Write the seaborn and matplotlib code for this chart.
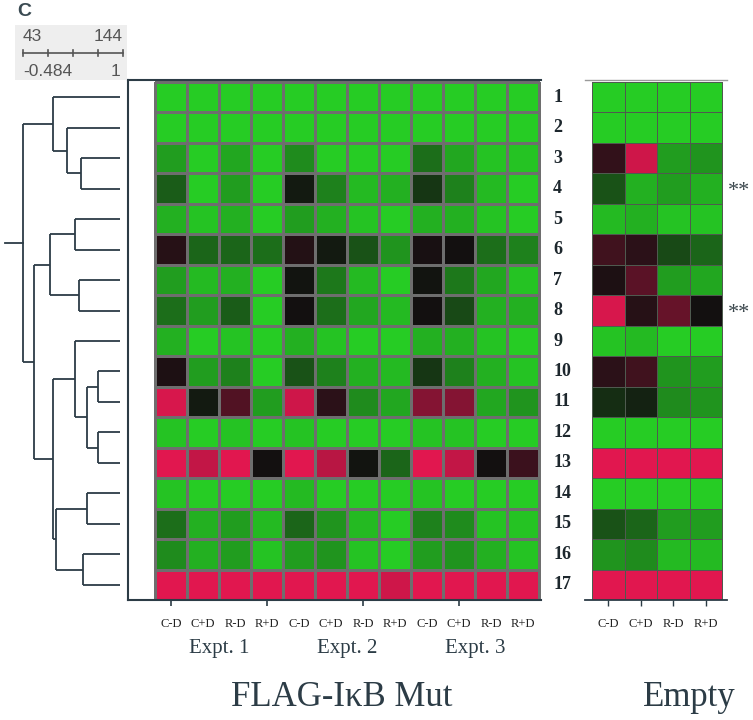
import numpy as np
import pandas as pd
import matplotlib
matplotlib.use("Agg")
import matplotlib.pyplot as plt
import seaborn as sns
from matplotlib.colors import LinearSegmentedColormap

genes = [str(i) for i in range(1, 18)]
conditions = ["C-D", "C+D", "R-D", "R+D"]
experiments = ["Expt. 1", "Expt. 2", "Expt. 3"]

# -1 = full green, 0 = black, 1 = full red
mut_vals = [
    [-1, -1, -1, -1, -1, -1, -1, -1, -1, -1, -1, -1],
    [-1, -1, -1, -1, -1, -1, -1, -1, -1, -1, -1, -1],
    [-0.75, -1, -0.8, -1, -0.65, -1, -1, -1, -0.5, -0.8, -0.95, -0.95],
    [-0.4, -1, -0.75, -1, -0.05, -0.6, -0.9, -0.85, -0.2, -0.6, -0.9, -1],
    [-0.85, -0.95, -0.85, -1, -0.75, -0.85, -0.95, -1, -0.85, -0.85, -0.95, -1],
    [0.1, -0.45, -0.45, -0.5, 0.08, -0.05, -0.35, -0.7, 0.03, 0.0, -0.5, -0.6],
    [-0.75, -0.9, -0.85, -1, -0.02, -0.55, -0.9, -1, -0.02, -0.55, -0.8, -0.95],
    [-0.5, -0.75, -0.4, -1, 0.0, -0.5, -0.8, -0.9, 0.0, -0.3, -0.85, -0.85],
    [-0.85, -1, -0.95, -1, -0.85, -0.95, -1, -1, -0.85, -0.85, -0.95, -1],
    [0.05, -0.75, -0.6, -1, -0.35, -0.6, -0.85, -0.9, -0.2, -0.6, -0.85, -0.95],
    [0.95, -0.05, 0.3, -0.75, 0.9, 0.12, -0.65, -0.8, 0.55, 0.55, -0.8, -0.7],
    [-0.95, -1, -0.95, -1, -0.95, -1, -1, -1, -0.95, -0.95, -1, -1],
    [1, 0.85, 1, 0.0, 1, 0.8, -0.02, -0.45, 1, 0.85, 0.0, 0.2],
    [-0.95, -1, -1, -1, -0.9, -1, -1, -1, -0.95, -1, -1, -1],
    [-0.5, -0.85, -0.75, -0.9, -0.45, -0.7, -0.9, -1, -0.6, -0.65, -0.95, -0.95],
    [-0.65, -0.85, -0.75, -0.95, -0.75, -0.7, -0.95, -1, -0.75, -0.7, -0.85, -0.95],
    [1, 1, 1, 1, 1, 1, 1, 0.9, 1, 1, 1, 1],
]

empty_vals = [
    [-1, -1, -1, -1],
    [-1, -1, -1, -1],
    [0.15, 0.9, -0.75, -0.7],
    [-0.35, -0.85, -0.75, -0.85],
    [-0.9, -0.85, -0.95, -0.95],
    [0.22, 0.12, -0.3, -0.45],
    [0.05, 0.35, -0.75, -0.8],
    [0.95, 0.1, 0.4, 0.0],
    [-0.95, -0.9, -1, -1],
    [0.12, 0.22, -0.7, -0.75],
    [-0.15, -0.1, -0.65, -0.7],
    [-1, -1, -1, -1],
    [1, 1, 1, 1],
    [-1, -1, -1, -1],
    [-0.35, -0.45, -0.75, -0.75],
    [-0.7, -0.65, -0.9, -0.9],
    [1, 1, 1, 1],
]

starred = ["4", "8"]

# tree: (left, right, height), leaves are 0..16, new nodes numbered from 17
merges = [
    (2, 3, 39), (1, 17, 53), (0, 18, 67),
    (4, 5, 45), (6, 7, 41), (20, 21, 70),
    (9, 10, 22), (11, 12, 22), (23, 24, 33), (8, 25, 45),
    (13, 14, 33), (15, 16, 37), (27, 28, 64),
    (26, 29, 67), (22, 30, 86), (19, 31, 97),
]
root_stub = 115

scale_top = ["43", "144"]
scale_bottom = ["-0.484", "1"]

W, H = 753, 720
serif = "Liberation Serif"
dark = "#2c3c46"
cmap = LinearSegmentedColormap.from_list("gbr", ["#26cc24", "#121010", "#e1174f"])

fig = plt.figure(figsize=(W / 100, H / 100), dpi=100)


def px_axes(x0, y0, x1, y1):
    return fig.add_axes([x0 / W, 1 - y1 / H, (x1 - x0) / W, (y1 - y0) / H])


# main heatmap
cols = pd.MultiIndex.from_product([experiments, conditions])
df_mut = pd.DataFrame(mut_vals, index=genes, columns=cols)
ax = px_axes(128, 80, 541, 600)
sns.heatmap(df_mut, ax=ax, cmap=cmap, vmin=-1, vmax=1, cbar=False,
            linewidths=0.8, linecolor="#6e6e6e")
ax.set_xlim(-27 / 32, 12 + 2 / 32)
ax.set_ylim(17, -0.066)
ax.set_xlabel("")
ax.set_ylabel("")
ax.set_yticks([])
ax.set_xticks([0.5, 3.5, 6.5, 9.5])
ax.set_xticklabels([])
ax.tick_params(axis="x", length=4, width=1.2, color=dark)
for side in ["left", "top", "bottom"]:
    ax.spines[side].set_visible(True)
    ax.spines[side].set_color(dark)
    ax.spines[side].set_linewidth(1.5)
ax.spines["right"].set_visible(False)

for j in range(12):
    ax.text(j + 0.5, 17.78, conditions[j % 4], ha="center", va="center",
            fontsize=9, family=serif, color="#222222", clip_on=False)
for k, name in enumerate(experiments):
    ax.text(4 * k + 2, 18.6, name, ha="center", va="center",
            fontsize=15, family=serif, color=dark, clip_on=False)
ax.text(5.85, 20.2, "FLAG-I\u03baB Mut", ha="center", va="center",
        fontsize=25, family=serif, color=dark, clip_on=False)
for i, g in enumerate(genes):
    ax.text(12.44, i + 0.5, g, ha="left", va="center", fontsize=13,
            fontweight="bold", family=serif, color="#1d272d", clip_on=False)

# empty vector heatmap
df_empty = pd.DataFrame(empty_vals, index=genes, columns=conditions)
ax2 = px_axes(585, 80, 727, 600)
sns.heatmap(df_empty, ax=ax2, cmap=cmap, vmin=-1, vmax=1, cbar=False,
            linewidths=0.4, linecolor="#4f5a4f")
ax2.set_xlim(-7 / 32.5, 4 + 5 / 32.5)
ax2.set_ylim(17, -0.066)
ax2.set_xlabel("")
ax2.set_ylabel("")
ax2.set_yticks([])
ax2.set_xticks(np.arange(4) + 0.5)
ax2.set_xticklabels([])
ax2.tick_params(axis="x", length=4, width=1.0, color=dark)
ax2.spines["bottom"].set_visible(True)
ax2.spines["bottom"].set_color(dark)
ax2.spines["bottom"].set_linewidth(1.3)
ax2.spines["top"].set_visible(True)
ax2.spines["top"].set_color("#9a9a9a")
ax2.spines["top"].set_linewidth(1.0)
for j, c in enumerate(conditions):
    ax2.text(j + 0.5, 17.78, c, ha="center", va="center", fontsize=9,
             family=serif, color="#222222", clip_on=False)
for g in starred:
    ax2.text(4.17, genes.index(g) + 0.6, "**", ha="left", va="center",
             fontsize=16, family=serif, color="#3a464c", clip_on=False)
ax2.text(3.0, 20.2, "Empty", ha="center", va="center", fontsize=25,
         family=serif, color=dark, clip_on=False)

# dendrogram
axd = px_axes(0, 82, 128, 600)
pos = {i: (i + 0.5, 0.0) for i in range(len(genes))}
for n, (a, b, h) in enumerate(merges):
    ya, ha_ = pos[a]
    yb, hb = pos[b]
    axd.plot([ha_, h], [ya, ya], color=dark, lw=1.3, solid_capstyle="butt")
    axd.plot([hb, h], [yb, yb], color=dark, lw=1.3, solid_capstyle="butt")
    axd.plot([h, h], [ya, yb], color=dark, lw=1.3, solid_capstyle="butt")
    pos[len(genes) + n] = ((ya + yb) / 2, h)
ry, rh = pos[len(genes) + len(merges) - 1]
axd.plot([rh, root_stub], [ry, ry], color=dark, lw=1.3)
axd.set_xlim(120, -8)
axd.set_ylim(17, 0)
axd.axis("off")

# colour/distance scale
axs = px_axes(15, 25, 127, 80)
axs.set_facecolor("#eeeeee")
for s in axs.spines.values():
    s.set_visible(False)
axs.set_xlim(-0.08, 1.04)
axs.set_ylim(0, 1)
axs.set_xticks([])
axs.set_yticks([])
ticks = np.linspace(0, 1, 5)
axs.plot([0, 1], [0.49, 0.49], color="#555555", lw=1.2)
for t in ticks:
    axs.plot([t, t], [0.43, 0.55], color="#555555", lw=1.2)
axs.text(0, 0.8, scale_top[0], ha="left", va="center", fontsize=12.5,
         family="Liberation Sans", color="#555555")
axs.text(1, 0.8, scale_top[1], ha="right", va="center", fontsize=12.5,
         family="Liberation Sans", color="#555555")
axs.text(0, 0.15, scale_bottom[0], ha="left", va="center", fontsize=12.5,
         family="Liberation Sans", color="#555555")
axs.text(0.97, 0.15, scale_bottom[1], ha="right", va="center", fontsize=12.5,
         family="Liberation Sans", color="#555555")
fig.text(17 / W, 1 - 12 / H, "C", ha="left", va="center", fontsize=14,
         fontweight="bold", family="Liberation Sans", color="#3a4a52")

fig.savefig("out.png", dpi=100, facecolor="white")
